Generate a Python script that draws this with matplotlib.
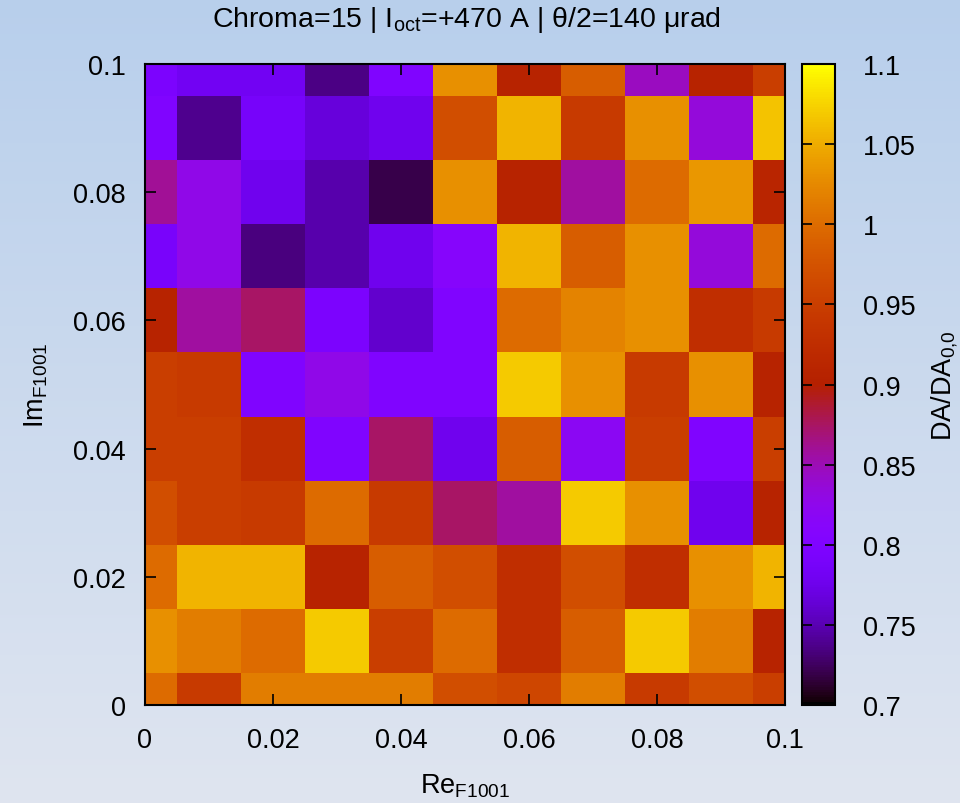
import numpy as np
import matplotlib
matplotlib.use("Agg")
import matplotlib.pyplot as plt
from matplotlib.ticker import FuncFormatter

plt.rcParams['font.family'] = ['Liberation Sans', 'DejaVu Sans']
plt.rcParams['mathtext.fontset'] = 'custom'
plt.rcParams['mathtext.rm'] = 'Liberation Sans'
plt.rcParams['mathtext.it'] = 'Liberation Sans:italic'

# grid of Re/Im F1001 values
re_f1001 = [0.0, 0.01, 0.02, 0.03, 0.04, 0.05, 0.06, 0.07, 0.08, 0.09, 0.1]
im_f1001 = [0.0, 0.01, 0.02, 0.03, 0.04, 0.05, 0.06, 0.07, 0.08, 0.09, 0.1]

# DA/DA_0,0, one row per Im value (bottom row first)
da_im000 = [1.000, 0.945, 1.015, 1.015, 1.015, 0.970, 0.960, 1.015, 0.945, 0.970, 0.950]
da_im001 = [1.030, 1.015, 1.000, 1.070, 0.950, 1.000, 0.925, 0.985, 1.070, 1.015, 0.905]
da_im002 = [1.000, 1.055, 1.055, 0.905, 0.985, 0.970, 0.925, 0.970, 0.925, 1.030, 1.055]
da_im003 = [0.970, 0.950, 0.945, 1.000, 0.945, 0.874, 0.857, 1.070, 1.030, 0.777, 0.905]
da_im004 = [0.950, 0.950, 0.925, 0.800, 0.874, 0.777, 0.985, 0.820, 0.950, 0.800, 0.950]
da_im005 = [0.950, 0.945, 0.800, 0.828, 0.800, 0.800, 1.070, 1.030, 0.945, 1.030, 0.905]
da_im006 = [0.905, 0.857, 0.874, 0.795, 0.760, 0.800, 1.000, 1.020, 1.030, 0.925, 0.945]
da_im007 = [0.790, 0.828, 0.734, 0.748, 0.777, 0.810, 1.055, 0.985, 1.030, 0.835, 1.000]
da_im008 = [0.860, 0.828, 0.777, 0.748, 0.719, 1.030, 0.905, 0.857, 1.000, 1.035, 0.910]
da_im009 = [0.800, 0.739, 0.788, 0.767, 0.777, 0.970, 1.055, 0.945, 1.030, 0.835, 1.065]
da_im010 = [0.795, 0.780, 0.780, 0.735, 0.800, 1.030, 0.905, 0.985, 0.846, 0.905, 0.950]

da = np.array([da_im000, da_im001, da_im002, da_im003, da_im004, da_im005,
               da_im006, da_im007, da_im008, da_im009, da_im010])

W, H = 960, 804
fig = plt.figure(figsize=(W / 100, H / 100), dpi=100)

# light blue gradient background
bg = fig.add_axes([0, 0, 1, 1], zorder=-10)
top = np.array([0.722, 0.812, 0.925])
bot = np.array([0.875, 0.898, 0.941])
t = np.linspace(0, 1, 256)[:, None]
grad = top[None, :] * (1 - t) + bot[None, :] * t
bg.imshow(grad[:, None, :], aspect='auto', extent=[0, 1, 0, 1])
bg.axis('off')

def px(x0, y0, x1, y1):
    return [x0 / W, 1 - y1 / H, (x1 - x0) / W, (y1 - y0) / H]

ax = fig.add_axes(px(145, 65, 785, 706))
ax.patch.set_alpha(0)
mesh = ax.pcolormesh(re_f1001, im_f1001, da, cmap='gnuplot', vmin=0.7, vmax=1.1,
                     shading='nearest', edgecolors='face', linewidth=0,
                     antialiased=False)
ax.set_xlim(0, 0.1)
ax.set_ylim(0, 0.1)
ax.set_xticks(np.arange(0, 0.101, 0.02))
ax.set_yticks(np.arange(0, 0.101, 0.02))
fmt = FuncFormatter(lambda v, p: '%g' % round(v, 4))
ax.xaxis.set_major_formatter(fmt)
ax.yaxis.set_major_formatter(fmt)
ax.tick_params(direction='in', length=8, width=1.2, top=True, right=True,
               labelsize=19.5, pad=14, colors='black')
ax.tick_params(axis='x', pad=16)
for s in ax.spines.values():
    s.set_linewidth(1.5)

ax.set_xlabel(r'Re$_{\mathrm{F1001}}$', fontsize=19.5)
ax.xaxis.set_label_coords(0.5, -0.104)
ax.set_ylabel(r'Im$_{\mathrm{F1001}}$', fontsize=19.5)
ax.yaxis.set_label_coords(-0.148, 0.5)

fig.text(467 / W, 1 - 20 / H,
         r'Chroma=15 | I$_{\mathrm{oct}}$=+470 A | θ/2=140 μrad',
         ha='center', va='center', fontsize=20.5)

cax = fig.add_axes(px(802, 65, 835, 706))
cb = fig.colorbar(mesh, cax=cax)
cb.set_ticks(np.arange(0.7, 1.1001, 0.05))
cb.ax.yaxis.set_major_formatter(fmt)
cb.outline.set_linewidth(1.5)
cax.tick_params(direction='in', length=7, width=1.2, left=True, right=True,
                labelsize=19.5, pad=20)
cb.set_label(r'DA/DA$_{\mathrm{0{,}0}}$', fontsize=19.5)
cax.yaxis.set_label_coords(3.85, 0.5)

fig.savefig('out.png', dpi=100)
